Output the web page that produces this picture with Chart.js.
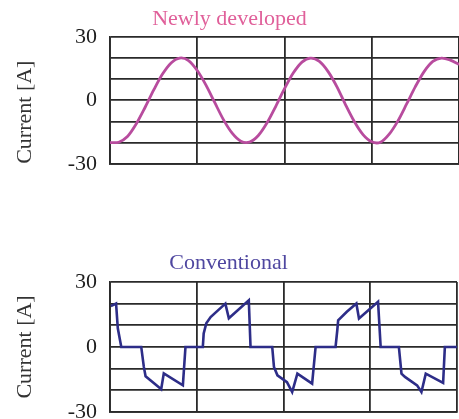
<!DOCTYPE html>
<html>
<head>
<meta charset="utf-8">
<script src="https://cdn.jsdelivr.net/npm/chart.js@4"></script>
<style>
  html, body { margin: 0; padding: 0; background: #fff; width: 459px; height: 419px; overflow: hidden; }
  .box { position: absolute; left: 0; width: 459px; }
  #topBox { top: 0; height: 190px; }
  #bottomBox { top: 230px; height: 210px; }
</style>
</head>
<body>
<div class="box" id="topBox"><canvas id="newChart"></canvas></div>
<div class="box" id="bottomBox"><canvas id="convChart"></canvas></div>
<script>
// time axis in grid divisions (0..4), current in A
const yTickLabels = [30, 0, -30];

const newTimes = [0, 0.1, 0.2, 0.3, 0.4, 0.5, 0.6, 0.7, 0.8, 0.9,
    1.0, 1.1, 1.2, 1.3, 1.4, 1.5, 1.6, 1.7, 1.8, 1.9,
    2.0, 2.1, 2.2, 2.3, 2.4, 2.5, 2.6, 2.7, 2.8, 2.9,
    3.0, 3.1, 3.2, 3.3, 3.4, 3.5, 3.6, 3.7, 3.8, 3.9, 4.0];
const newCurrent = [-20, -19.8, -17.1, -11.2, -3.5, 4.8, 12.3, 17.7, 20, 18.8,
    14.1, 7.2, -1, -9.1, -15.5, -19.3, -19.7, -16.6, -10.6, -2.8,
    5.5, 12.9, 18.1, 20, 18.4, 13.6, 6.5, -2.1, -10, -16.2,
    -19.6, -19.8, -16, -9.7, -1.7, 6.5, 13.6, 18.4, 20, 19, 17];

const convTimes = [0.01, 0.07, 0.09, 0.13, 0.36, 0.39, 0.41, 0.56, 0.59, 0.62,
    0.84, 0.87, 1.07, 1.08, 1.11, 1.16, 1.33, 1.37, 1.60, 1.62,
    1.87, 1.89, 1.93, 2.04, 2.10, 2.16, 2.33, 2.37, 2.60, 2.62,
    2.63, 2.73, 2.84, 2.87, 3.09, 3.12, 3.33, 3.36, 3.40, 3.54,
    3.59, 3.64, 3.84, 3.86, 4.0];
const convCurrent = [18.8, 20, 8.6, 0, 0, -9.2, -13.5, -18.5, -19.5, -12.2,
    -17.7, 0, 0, 6.2, 10.9, 13.8, 20, 13.2, 21.5, 0,
    0, -9.2, -13.1, -16.2, -20.8, -12.3, -16.9, 0, 0, 7.7,
    12.3, 16.2, 20, 13.1, 20.8, 0, 0, -12.3, -13.8, -17.7,
    -20.8, -12.3, -16.6, 0, 0];

const serif = '"Liberation Serif", "Times New Roman", serif';
const gridColor = '#2a2a2a';

function toPoints(xs, ys) {
    return xs.map((x, i) => ({ x: x, y: ys[i] }));
}

function makeChart(id, opts) {
    return new Chart(document.getElementById(id), {
        type: 'line',
        data: {
            datasets: [{
                data: toPoints(opts.times, opts.values),
                borderColor: opts.lineColor,
                borderWidth: opts.lineWidth,
                pointRadius: 0,
                tension: opts.tension,
                fill: false
            }]
        },
        options: {
            responsive: true,
            maintainAspectRatio: false,
            animation: false,
            layout: { padding: { top: 0, left: 0, right: opts.padRight, bottom: opts.padBottom } },
            scales: {
                x: {
                    type: 'linear',
                    min: 0,
                    max: 4,
                    ticks: { display: false, stepSize: 1, autoSkip: false },
                    grid: { color: gridColor, lineWidth: 1.8, drawTicks: false },
                    border: { color: gridColor, width: 1.8 }
                },
                y: {
                    min: -30,
                    max: 30,
                    afterFit: function(scale) { scale.width = 110; },
                    ticks: {
                        stepSize: 10,
                        autoSkip: false,
                        padding: 13,
                        color: '#1e1e1e',
                        font: { family: serif, size: 22 },
                        callback: v => yTickLabels.includes(v) ? String(v) : ''
                    },
                    grid: { color: gridColor, lineWidth: 1.8, drawTicks: false },
                    border: { color: gridColor, width: 1.8 },
                    title: {
                        display: true,
                        text: 'Current [A]',
                        align: opts.yTitleAlign,
                        color: '#333',
                        font: { family: serif, size: 22 },
                        padding: { top: 12, bottom: 0 }
                    }
                }
            },
            plugins: {
                legend: { display: false },
                tooltip: { enabled: false },
                title: {
                    display: true,
                    text: opts.title,
                    color: opts.titleColor,
                    font: { family: serif, size: 22, weight: 'normal' },
                    padding: { top: opts.titleTop, bottom: opts.titleBottom }
                }
            }
        }
    });
}

makeChart('newChart', {
    times: newTimes, values: newCurrent,
    title: 'Newly developed', titleColor: '#e0609a',
    lineColor: '#b84c9e', lineWidth: 2.8, tension: 0.3,
    titleTop: 6.5, titleBottom: 4, padRight: 0, padBottom: 20,
    yTitleAlign: 'start'
});

makeChart('convChart', {
    times: convTimes, values: convCurrent,
    title: 'Conventional', titleColor: '#4f47a0',
    lineColor: '#2d2d88', lineWidth: 2.6, tension: 0,
    titleTop: 20.5, titleBottom: 5, padRight: 2, padBottom: 28,
    yTitleAlign: 'center'
});
</script>
</body>
</html>
